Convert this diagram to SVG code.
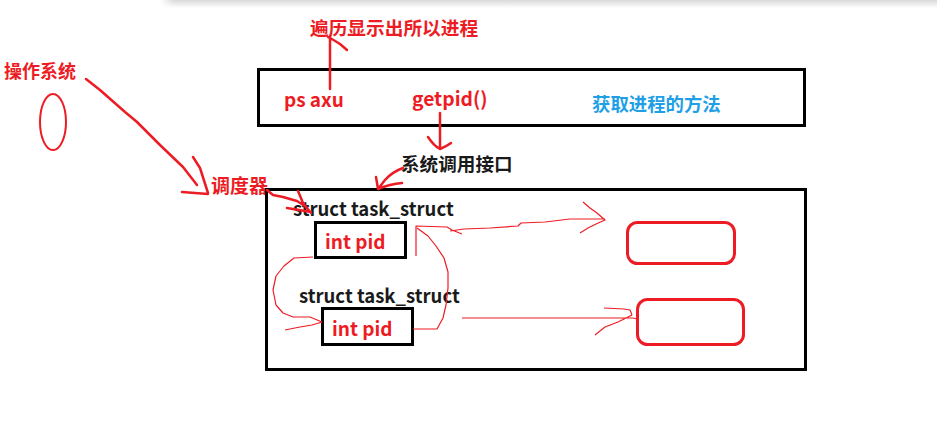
<svg xmlns="http://www.w3.org/2000/svg" width="937" height="422" viewBox="0 0 937 422">
<style>
text{font-family:"Noto Sans CJK SC","Microsoft YaHei",sans-serif;font-weight:bold}
.r{fill:#ED1C24}
.k{fill:#1a1a1a}
.b{fill:#1E9FE6}
.box{fill:none;stroke:#000;stroke-width:3}
.rbox{fill:none;stroke:#ED1C24;stroke-width:3}
.th{fill:none;stroke:#ED1C24;stroke-width:2.5;stroke-linecap:round;stroke-linejoin:round}
.tn{fill:none;stroke:#ED1C24;stroke-width:1.2;stroke-linejoin:round}
</style>
<defs>
<linearGradient id="sh" x1="0" y1="0" x2="0" y2="1">
<stop offset="0" stop-color="#d9d9d9"/>
<stop offset="1" stop-color="#ffffff"/>
</linearGradient>
<linearGradient id="shl" x1="0" y1="0" x2="1" y2="0">
<stop offset="0" stop-color="#fff" stop-opacity="1"/>
<stop offset="1" stop-color="#fff" stop-opacity="0"/>
</linearGradient>
</defs>
<rect width="937" height="422" fill="#fff"/>
<rect x="160" y="0" width="777" height="8" fill="url(#sh)"/>
<rect x="160" y="0" width="14" height="8" fill="url(#shl)"/>

<g id="os">
<text class="r" x="4" y="78" font-size="18">操作系统</text>
<ellipse cx="53" cy="122" rx="13" ry="28" fill="none" stroke="#ED1C24" stroke-width="2"/>
</g>
<g id="traverse"><text class="r" x="310" y="35" font-size="18.7">遍历显示出所以进程</text></g>
<g id="topbox">
<rect class="box" x="258.5" y="69.5" width="546" height="56"/>
<text class="r" x="284" y="107" font-size="19">ps axu</text>
<text class="r" x="412" y="106" font-size="19.3">getpid()</text>
<text class="b" x="592" y="111" font-size="18.4">获取进程的方法</text>
</g>
<g id="syscall"><text class="k" x="401" y="171" font-size="18.6">系统调用接口</text></g>
<g id="scheduler"><text class="r" x="211" y="193" font-size="19">调度器</text></g>
<g id="kernel">
<rect class="box" x="266.5" y="189.5" width="539" height="180"/>
</g>
<g id="task1">
<text class="k" x="293" y="216" font-size="18.5">struct task_struct</text>
<rect class="box" x="315.5" y="222.5" width="90" height="35"/>
<text class="r" x="325" y="249" font-size="19">int pid</text>
</g>
<g id="task2">
<text class="k" x="299" y="303" font-size="18.5">struct task_struct</text>
<rect class="box" x="322.5" y="308.5" width="90" height="36"/>
<text class="r" x="332" y="336" font-size="19">int pid</text>
</g>
<g id="res1"><rect class="rbox" x="627.5" y="222.5" width="107" height="41" rx="10"/></g>
<g id="res2"><rect class="rbox" x="637.5" y="299.5" width="106" height="45" rx="10"/></g>

<g id="connectors">
<path class="th" d="M330 89 L330 36 M328 37 Q334 40 340 44 L347 50"/>
<path class="th" d="M440 113 L440 149 M428 137 Q434 146 440 149 Q447 146 451 143"/>
<path class="th" d="M403 168 Q392 172 385 180 L378 189 M376 177 L378 189 Q390 184 402 183"/>
<path class="th" d="M86 79 L100 90 L125 112 L137 122 L160 145 L183 167 L197 185 M193 157 L200 168 L208 193 M182 192 L208 194"/>
<path class="th" d="M267 190 L273 195 L283 197 L297 201 L305 206 L311 213 M298 191 L303 203 L311 213 M287 208 L311 212"/>
<path class="tn" d="M416 256 L416 226 L447 227 L452 230 L462 234 M450 231 L464 229 L490 228 L518 226 L521 223 L545 222 L570 219 L605 219 M583 202 L590 208 L597 213 L605 220 L596 224 L588 228 L580 233"/>
<path class="tn" d="M413 329 L437 329 L443 318 L446 305 L448 288 L448 272 L444 258 L436 246 L428 236 L417 228"/>
<path class="tn" d="M313 257 L294 258 L284 266 L276 276 L273 290 L276 305 L283 313 L293 317 L310 317 L322 322 M285 330 L300 327 L312 325 L322 322"/>
<path class="tn" d="M462 318 L633 318 L637 319 M604 308 L624 309 L630 310 L632 315 M595 335 L605 327 L618 322 L632 315"/>
</g>
</svg>
